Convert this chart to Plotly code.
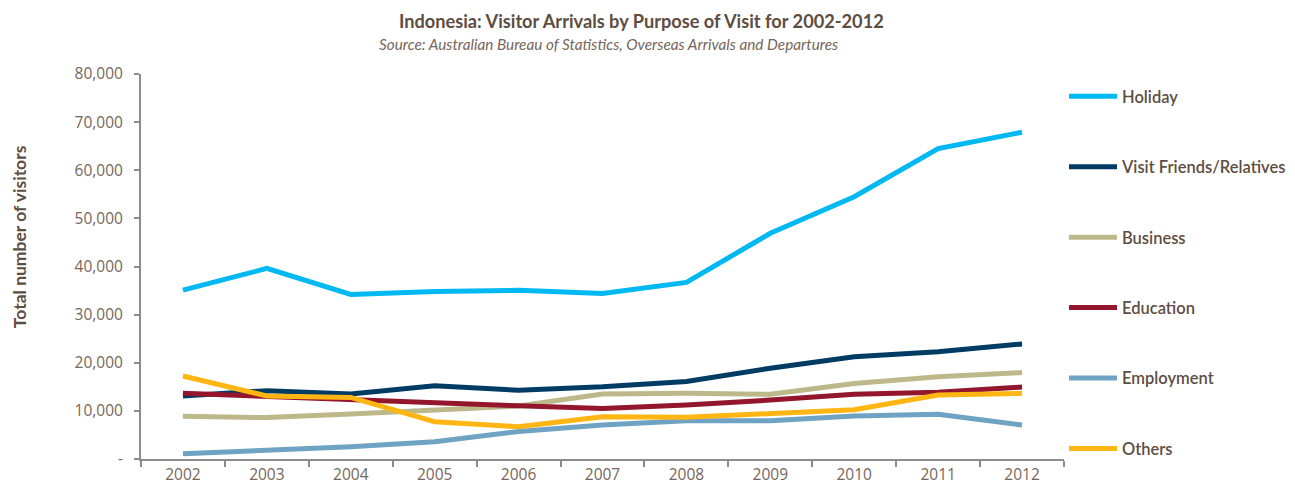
import plotly.graph_objects as go

years = ["2002", "2003", "2004", "2005", "2006", "2007", "2008", "2009", "2010", "2011", "2012"]

holiday = [35100, 39600, 34200, 34800, 35050, 34400, 36700, 46900, 54500, 64500, 67900]
visit_friends = [13100, 14200, 13500, 15200, 14300, 15000, 16100, 18850, 21250, 22300, 23900]
business = [8900, 8600, 9350, 10300, 11000, 13500, 13650, 13450, 15700, 17100, 17950]
education = [13650, 12950, 12250, 11800, 11050, 10500, 11200, 12250, 13450, 13850, 14950]
employment = [1100, 1850, 2550, 3600, 5700, 7050, 7950, 7950, 8950, 9300, 7050]
others = [17250, 13100, 12800, 7750, 6700, 8800, 8650, 9500, 10250, 13300, 13650]

series = [
    ("Holiday", holiday, "#00B9F2"),
    ("Visit Friends/Relatives", visit_friends, "#003B64"),
    ("Business", business, "#BDB88A"),
    ("Education", education, "#93162C"),
    ("Employment", employment, "#6FA3C4"),
    ("Others", others, "#FFB612"),
]

y_ticks = [0, 10000, 20000, 30000, 40000, 50000, 60000, 70000, 80000]
y_tick_text = ["-", "10,000", "20,000", "30,000", "40,000", "50,000", "60,000", "70,000", "80,000"]

text_color = "#5E4D42"
tick_color = "#76665B"
axis_color = "#8C8C8C"
font_family = "Lato, 'Open Sans', sans-serif"
tick_family = "'Open Sans', sans-serif"

# plot area in pixels
W, H = 1295, 487
M_L, M_R, M_T, M_B = 141, 230, 74, 28
plot_w = W - M_L - M_R
plot_h = H - M_T - M_B

fig = go.Figure()
for name, values, color in series:
    fig.add_trace(go.Scatter(
        x=years, y=values, name=name, mode="lines",
        legendgroup=name,
        line=dict(color=color, width=5),
    ))

fig.update_layout(
    width=W, height=H,
    margin=dict(l=M_L, r=M_R, t=M_T, b=M_B),
    paper_bgcolor="white", plot_bgcolor="white",
    font=dict(family=font_family, color=text_color),
    showlegend=True,
    legend=dict(
        xref="container", yref="container",
        x=1064 / W, xanchor="left", y=1 - 79 / H, yanchor="top",
        tracegroupgap=46,
        font=dict(size=16.5, color=text_color, family=font_family, weight=600),
        itemwidth=48,
        maxheight=H,
        bgcolor="rgba(0,0,0,0)",
    ),
    annotations=[
        dict(text="<b>Indonesia: Visitor Arrivals by Purpose of Visit for 2002-2012</b>",
             xref="paper", yref="paper",
             x=(642 - M_L) / plot_w, y=1 + (M_T - 21) / plot_h,
             showarrow=False, font=dict(size=18.2, color=text_color, family=font_family),
             xanchor="center", yanchor="middle"),
        dict(text="<i>Source: Australian Bureau of Statistics, Overseas Arrivals and Departures</i>",
             xref="paper", yref="paper",
             x=(609 - M_L) / plot_w, y=1 + (M_T - 44) / plot_h,
             showarrow=False, font=dict(size=15.3, color=tick_color, family=font_family),
             xanchor="center", yanchor="middle"),
        dict(text="<b>Total number of visitors</b>",
             xref="paper", yref="paper",
             x=-(M_L - 19) / plot_w, y=(459 - 237) / plot_h, textangle=-90,
             showarrow=False, font=dict(size=17.5, color=text_color, family=font_family),
             xanchor="center", yanchor="middle"),
    ],
)

fig.update_xaxes(
    type="category",
    range=[-0.5, 10.5],
    automargin=False,
    showline=True, linecolor=axis_color, linewidth=2,
    ticks="outside", tickson="boundaries", ticklen=6, tickcolor=axis_color, tickwidth=1.5,
    showgrid=False, zeroline=False,
    tickfont=dict(size=15.5, color=tick_color, family=tick_family),
)
fig.update_yaxes(
    range=[0, 80000],
    automargin=False,
    tickvals=y_ticks, ticktext=y_tick_text,
    showline=True, linecolor=axis_color, linewidth=2,
    ticks="outside", ticklen=5, tickcolor=axis_color, tickwidth=1.5,
    showgrid=False, zeroline=False,
    tickfont=dict(size=15.5, color=tick_color, family=tick_family),
    ticklabelstandoff=8,
)

fig.write_html("out.html")
